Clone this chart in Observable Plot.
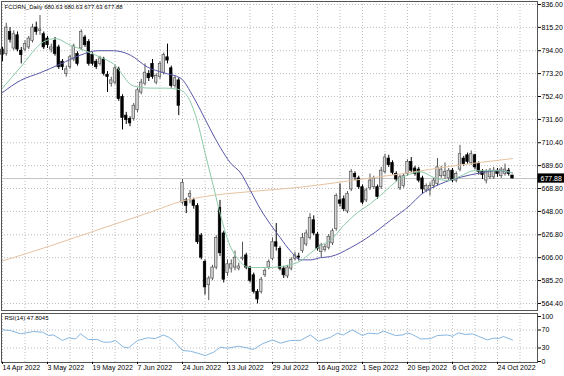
<!DOCTYPE html>
<html><head><meta charset="utf-8">
<script src="https://cdn.jsdelivr.net/npm/d3@7"></script>
<script src="https://cdn.jsdelivr.net/npm/@observablehq/plot@0.6"></script>
<style>body{margin:0;background:#fff}#chart{width:564px;height:376px;overflow:hidden}#chart svg{display:block}</style>
</head><body><div id="chart"></div>
<script>
const title = "FCORN_Daily 680.63 680.63 677.63 677.88";
const rsiTitle = "RSI(14) 47.8045";
const open = [795,791,811,796,808,794,795,797,803,815,812,809,805,795,803,797,784,773,779,786,791,796,806,802,790,784,782,786,772,764,
765,777,752,735,732,732,740,756,764,773,782,765,770,774,788,778,762,767,656,658,661,658,653,626,602,581,587,597,651,628,
592,596,597,596,605,608,597,590,575,575,590,597,605,620,614,596,589,596,605,607,612,618,624,640,627,611,613,615,619,632,
658,659,648,668,682,678,670,658,669,670,670,670,684,696,692,682,669,671,682,693,687,686,678,667,667,671,673,680,680,678,
685,676,686,696,699,692,699,691,684,676,679,679,685,680,682,685,680.63];
const high = [797,819,815,812,811,797,803,807,818,820,826,811,807,800,806,799,786,780,790,800,793,813,808,804,792,786,789,788,775,770,
781,779,754,738,734,746,760,768,782,776,786,773,784,792,800,780,771,769,677,660,667,660,655,628,604,589,599,626,658,630,
604,604,612,601,620,610,598,592,577,588,596,604,624,637,616,598,599,606,611,610,628,631,646,644,629,619,618,627,632,664,
673,662,666,686,684,680,672,669,682,680,672,688,700,699,694,684,681,682,695,697,689,688,680,673,674,678,696,689,692,687,
687,684,708,698,701,703,700,693,686,686,687,688,687,688,691,687,680.63];
const low = [784,789,801,794,793,782,793,795,801,808,808,795,796,792,789,777,776,770,777,784,780,794,797,780,780,777,780,771,756,761,
763,748,722,727,725,730,738,754,762,766,768,763,768,772,782,760,760,735,654,646,655,650,618,604,572,567,585,595,607,583,
589,592,594,594,603,595,583,573,564,573,588,595,603,612,594,587,587,594,603,603,610,616,622,626,612,606,611,613,617,630,
652,648,646,666,676,668,654,656,667,668,659,668,682,688,681,675,667,669,680,683,680,674,664,665,662,669,671,678,677,676,
674,674,684,689,691,690,686,681,677,673,677,677,679,678,680,680,677.63];
const close = [790,815,804,809,795,790,800,805,815,811,812.5,797,799,797,791,779,779,777,788,798,782,811,799,782,782,779,787,773,770,767,
778,750,733,731,728,744,758,765,774,769,770,771,782,790,785,762,769,744,674,653,664,653,620,606,579,587,597,624,610,586,
600,600,606,598,606,597,585,575,568,586,594,602,620,616,596,590,597,604,608,606,624,628,642,628,614,617,615.5,625,630,662,
655,650,664,684,679,670,656,667,676,678,661,685,697,690,683,677,679,680,693,685,682,676,668,671,671,676,688,686,684,685,
676,682,700,691,693,700,688,684,681,684,685,685,682,686,686,682,677.88];

// moving averages (bar index, value)
const greenBar = [0,4.8,10.9,14.1,18.1,22.1,26.1,29.6,34.9,39.5,43.5,46.7,48.8,51.5,54.1,56.3,58.1,60.3,62.7,66.1,70.7,76,79.5,82.1,84.8,87.5,90.9,94.7,98.1,101.6,105.3,108.8,111.5,114.9,118.7,122.1,125.6,130.1,132.8,136];
const greenVal = [760,779,802,805,799,794,788,782,762,760,760,759,755,735,700,670,645,620,605,597,597,599,603,610,617,622,635,647,655,665,676,682,684,679,676,680,685,685,685,683];
const blueBar = [0,4.8,10.1,15.5,20.8,25.3,29.6,34.1,38.7,42.9,47.5,50.9,52.8,55.5,58.1,60.8,63.5,66.1,68.8,71.5,74.1,76.8,79.5,82.1,84.8,87.5,92.8,98.1,103.5,108.8,111.5,116.8,122.1,127.5,132,136];
const blueVal = [756,767,774,782,790,794,794,790,779,774,769,752,740,722,706,692,683,667,650,636,624,612,604,604,606,607,615,626,640,654,663,673,679,683,685,683];
const tanBar = [0,13,26,40,47.5,53,66,79.5,93,106,119.5,136];
const tanVal = [603,617,632,648,657,661,666,670,676,682,689,696];
const rsiBar = [0,2.1,4.8,8.3,10.7,12.3,13.6,16,17.6,19.5,20.8,22.9,25.3,26.9,28.8,30.1,32.3,33.6,36,38.7,40.8,42.9,44.3,45.6,48,50.1,52,54.1,56.3,58.1,60,62.9,65.3,66.9,69.3,72,74.1,76.8,79.5,82.1,84.3,87.5,89.3,90.9,93.3,96,97.6,100,101.6,104.8,106.7,108,109.3,111.5,114.1,116,118.7,120,121.6,123.5,125.3,126.9,129.3,130.9,132.3,133.6,136];
const rsiVal = [70.4,69,61.5,66.7,65,57.8,59,46.7,52.6,50.3,61.5,48.9,48.9,43,43,46.7,31.9,30.4,46.7,52.6,51,59,54,46.7,24.4,23,18.5,13.3,20.7,31.9,29.6,34,30.4,26.7,39.3,48.1,40.7,46.7,47,59,45,54,63,59,70.4,57.8,63,61.5,67.4,57.8,59,63.7,60,50.3,50.7,57.8,59,56,63.7,60,61.5,56,48.1,52,51,55.6,47.8];

const priceTicks = [836,815.2,794,773.2,752.4,731.6,710.4,689.6,668.8,648,626.8,606,585.2,564.4];
const rsiTicks = [100,70,30,0];
const dateLabels = ["14 Apr 2022","3 May 2022","19 May 2022","7 Jun 2022","24 Jun 2022","13 Jul 2022","29 Jul 2022","16 Aug 2022","1 Sep 2022","20 Sep 2022","6 Oct 2022","24 Oct 2022"];
const dateBars = [0,12,24,36,48,60,72,84,96,108,120,132];
const gridBars = [0,6,12,18,24,30,36,42,48,54,60,66,72,78,84,90,96,102,108,114,120,126,132,138];
const lastPrice = 677.88;

const candles = open.map((o,i)=>({i,o,h:high[i],l:low[i],c:close[i],up:close[i]>=o}));
const pts = (b,v)=>b.map((x,k)=>({x,y:v[k]}));
const xDom = [-0.27,142.67];
const font = "'Liberation Sans', Arial, sans-serif";
const gridStyle = {stroke:"#bdbdbd",strokeDasharray:"1,2",strokeWidth:1};

const price = Plot.plot({
  width:564,height:312,marginTop:1,marginBottom:2,marginLeft:1,marginRight:27,
  style:{fontFamily:font,fontSize:"7px",background:"#fff",color:"#000",overflow:"visible"},
  x:{domain:xDom,axis:null},
  y:{domain:[558.0,838.7],axis:null},
  marks:[
    Plot.ruleY(priceTicks,gridStyle),
    Plot.ruleX(gridBars,gridStyle),
    Plot.ruleY([lastPrice],{stroke:"#c4c4c4"}),
    Plot.ruleX(candles,{x:"i",y1:"l",y2:"h",stroke:d=>d.up?"#555":"#000",strokeWidth:1}),
    Plot.rect(candles,{x1:d=>d.i-0.33,x2:d=>d.i+0.33,
      y1:d=>Math.min(d.o,d.c),y2:d=>Math.max(d.o,d.c)+(Math.abs(d.o-d.c)<0.8?0.8:0),
      fill:d=>d.up?"#d6d6d6":"#000",stroke:d=>d.up?"#555":"#000",strokeWidth:0.7}),
    Plot.line(pts(tanBar,tanVal),{x:"x",y:"y",stroke:"#e6c3a0",strokeWidth:1,curve:"monotone-x"}),
    Plot.line(pts(blueBar,blueVal),{x:"x",y:"y",stroke:"#5656a8",strokeWidth:1,curve:"monotone-x"}),
    Plot.line(pts(greenBar,greenVal),{x:"x",y:"y",stroke:"#8ccaa8",strokeWidth:1,curve:"monotone-x"}),
    Plot.frame({stroke:"#555"}),
    Plot.axisY(priceTicks,{anchor:"right",label:null,tickSize:3,tickPadding:1,tickFormat:d=>d.toFixed(2),fontSize:7}),
    Plot.rect([lastPrice],{x1:xDom[1]+0.15,x2:xDom[1]+7.2,y1:d=>d-4.2,y2:d=>d+4.2,fill:"#000"}),
    Plot.text([lastPrice],{y:d=>d,frameAnchor:"right",dx:3,textAnchor:"start",text:d=>d.toFixed(2),fill:"#fff",fontSize:7}),
    Plot.text([title],{frameAnchor:"top-left",dx:3,dy:3,textAnchor:"start",lineAnchor:"top",fontSize:6,fill:"#000"})
  ]
});

const rsi = Plot.plot({
  width:564,height:64,marginTop:1,marginBottom:14,marginLeft:1,marginRight:27,
  style:{fontFamily:font,fontSize:"7px",background:"#fff",color:"#000",overflow:"visible"},
  x:{domain:xDom,axis:null},
  y:{domain:[-2.2,106.7],axis:null},
  marks:[
    Plot.ruleY([70,30],gridStyle),
    Plot.ruleX(gridBars,gridStyle),
    Plot.line(pts(rsiBar,rsiVal),{x:"x",y:"y",stroke:"#86b6e0",strokeWidth:1}),
    Plot.frame({stroke:"#555"}),
    Plot.axisY(rsiTicks,{anchor:"right",label:null,tickSize:3,tickPadding:1,fontSize:7}),
    Plot.axisX(dateBars,{anchor:"bottom",label:null,tickSize:2,tickPadding:1,textAnchor:"start",fontSize:7,
      tickFormat:d=>dateLabels[dateBars.indexOf(d)]}),
    Plot.text([rsiTitle],{frameAnchor:"top-left",dx:3,dy:2,textAnchor:"start",lineAnchor:"top",fontSize:6,fill:"#000"})
  ]
});

const el = document.getElementById("chart");
el.appendChild(price);
el.appendChild(rsi);
</script>
</body></html>
